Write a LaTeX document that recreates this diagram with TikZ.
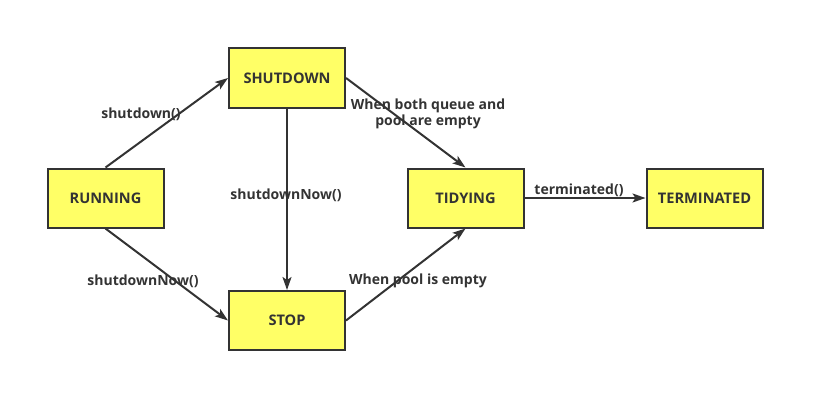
\documentclass[tikz,border=0pt]{standalone}
\usepackage{fontspec}
\setmainfont{Open Sans}
\usetikzlibrary{arrows.meta}
\definecolor{boxfill}{RGB}{255,255,102}
\definecolor{ink}{RGB}{51,51,51}
\begin{document}
\begin{tikzpicture}[x=1pt,y=-1pt,
  state/.style={draw=ink,line width=2pt,fill=boxfill,minimum width=116pt,minimum height=59pt,inner sep=0pt,font=\fontsize{14.6}{16}\selectfont\bfseries,text=ink},
  conn/.style={draw=ink,line width=2pt,-{Stealth[length=13pt,width=9pt,inset=3pt]}},
  lbl/.style={font=\fontsize{14}{16.5}\selectfont\bfseries,text=ink,inner sep=0pt,align=center}]
\useasboundingbox (0,0) rectangle (826,412);
\node[state] (run) at (105.5,198) {RUNNING};
\node[state] (shut) at (287,78) {SHUTDOWN};
\node[state] (stop) at (287,320.5) {STOP};
\node[state] (tidy) at (465.5,198) {TIDYING};
\node[state] (term) at (704.5,198) {TERMINATED};
\draw[conn] (run.north) -- (shut.west);
\draw[conn] (run.south) -- (stop.west);
\draw[conn] (shut.south) -- (stop.north);
\draw[conn] (shut.east) -- (tidy.north);
\draw[conn] (stop.east) -- (tidy.south);
\draw[conn] (tidy.east) -- (term.west);
\node[lbl] (l1) at (141,114) {shutdown()};
\node[lbl] (l2) at (286,195) {shutdownNow()};
\node[lbl] (l3) at (143,281) {shutdownNow()};
\node[lbl] (l4) at (428,114) {When both queue and\\pool are empty};
\node[lbl] (l5) at (418,281) {When pool is empty};
\node[lbl] (l6) at (579,190) {terminated()};
\end{tikzpicture}
\end{document}
